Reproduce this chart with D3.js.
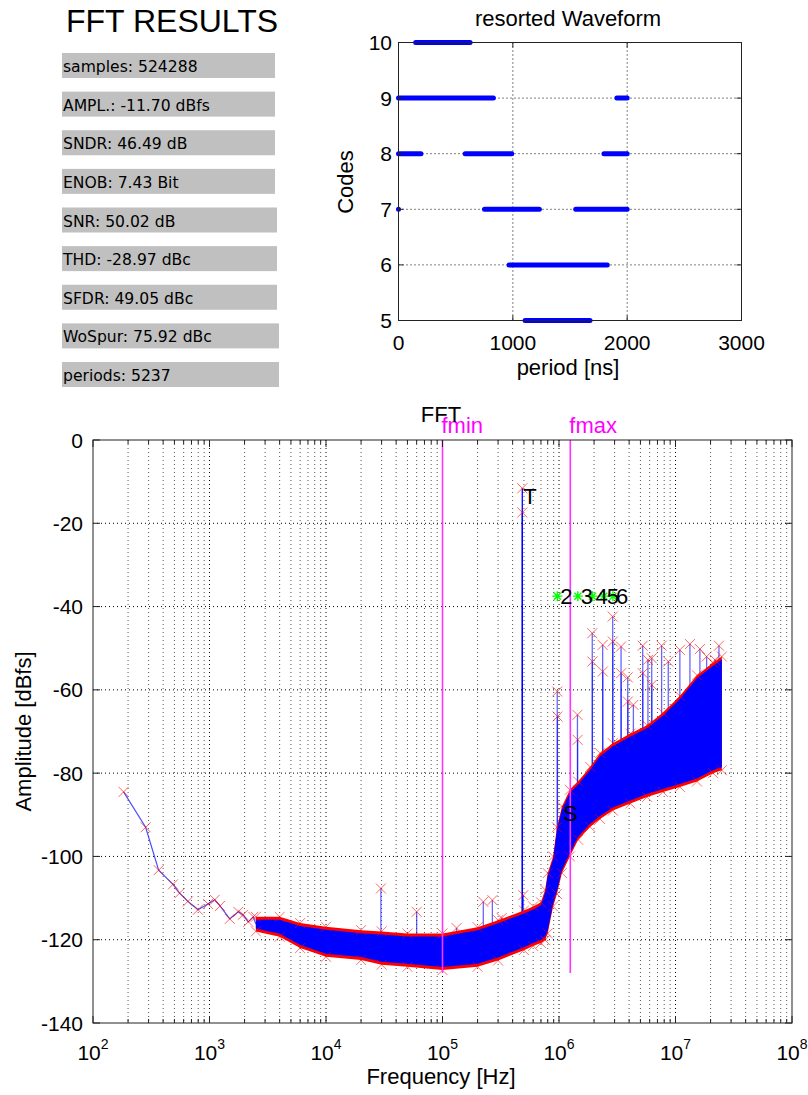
<!DOCTYPE html>
<html>
<head>
<meta charset="utf-8">
<script src="https://cdn.jsdelivr.net/npm/d3@7"></script>
<style>
  body { margin: 0; background: #fff; }
  svg { display: block; }
  text { font-family: "Liberation Sans", Arial, sans-serif; fill: #000; }
</style>
</head>
<body>
<svg id="chart"></svg>
<script>
// ---------- data ----------
const statLabels = [
  "samples: 524288", "AMPL.: -11.70 dBfs", "SNDR: 46.49 dB", "ENOB: 7.43 Bit",
  "SNR: 50.02 dB", "THD: -28.97 dBc", "SFDR: 49.05 dBc", "WoSpur: 75.92 dBc", "periods: 5237"
];

// resorted waveform: runs of samples per code (period in ns)
const waveCodes = [10, 9, 9, 8, 8, 8, 7, 7, 7, 6, 5];
const waveStart = [150, 0, 1910, 0, 583, 1797, 0, 752, 1550, 967, 1107];
const waveEnd   = [626, 830, 2000, 196, 990, 2000, 0, 1232, 2000, 1826, 1675];
const waveXTicks = [0, 1000, 2000, 3000];
const waveYTicks = [5, 6, 7, 8, 9, 10];

// FFT: sparse low-frequency bins
const lowHz = [183, 283, 366, 486, 554, 653, 796, 970, 1110, 1230, 1493, 1766, 1941, 2153, 2376];
const lowDb = [-84.5, -93.0, -103.3, -106.7, -108.8, -110.8, -112.8, -111.4, -110.4, -111.9, -115.0, -113.3, -114.0, -115.7, -114.5];

// FFT: dense noise band envelope (top / bottom of the marker cloud)
const bandHz = [2.5e3, 4e3, 6e3, 1e4, 2e4, 3e4, 5e4, 1e5, 2e5, 3e5, 5e5, 6e5, 7e5, 7.6e5, 8e5, 8.9e5,
  9.6e5, 1.06e6, 1.24e6, 1.46e6, 1.85e6, 2.25e6, 2.9e6, 4.1e6, 5.7e6, 7.8e6, 1.09e7, 1.53e7, 2.1e7, 2.5e7];
const bandTopDb = [-114.5, -114.5, -116, -116.9, -117.7, -118, -118.5, -118.5, -117, -115.3, -113, -112, -111, -108,
  -104, -100, -93, -88, -84, -82, -78.5, -75.2, -72.8, -70.5, -68.5, -65.5, -61.5, -56.5, -53.5, -52];
const bandBotDb = [-118, -119.3, -122, -124.1, -124.9, -126, -126.5, -127.3, -126.5, -125, -122.5, -121.5, -120.8, -120.1,
  -118.5, -112, -109, -104, -100, -96, -92.9, -91, -89, -87.3, -85.7, -84.5, -83.3, -82, -80, -79.3];

// FFT: spurs standing out of the noise
const spurHz = [29.6e3, 60e3, 132e3, 224e3, 268e3, 322e3, 494e3, 484e3, 484.5e3,
  966e3, 970e3, 1.44e6, 1.445e6, 1.93e6, 1.935e6, 2.37e6, 2.375e6, 2.89e6, 2.895e6, 3.41e6, 3.415e6,
  3.89e6, 3.9e6, 4.35e6, 5.23e6, 5.24e6, 5.8e6, 6.25e6, 6.26e6, 7.6e6, 8.67e6, 10.9e6, 13.3e6, 16.2e6,
  18.5e6, 21.8e6, 23.6e6];
const spurDb = [-107.7, -113.3, -117.2, -110.9, -110.5, -114.8, -109.3, -11.6, -17.4,
  -60.4, -66.4, -66, -72, -46.4, -53.2, -49.2, -55.6, -42.4, -48.4, -49.6, -56,
  -57, -62.8, -63.6, -49.4, -56, -52.8, -52.4, -58.8, -49.4, -53.2, -50.4, -49, -50.2,
  -52, -52.8, -49.4];

// harmonics 2..6 (markers drawn at a fixed level)
const harmHz = [968e3, 1.452e6, 1.936e6, 2.42e6, 2.904e6];
const harmDb = [-37.5, -37.5, -37.5, -37.5, -37.5];
const harmLabels = ["2", "3", "4", "5", "6"];

const peakLabels = ["T", "S"];
const peakHz = [484e3, 1.06e6];
const peakDb = [-13.5, -89.6];

const fLimitNames = ["fmin", "fmax"];
const fLimitHz = [1e5, 1.25e6];
const fLimitBottomDb = -128;

const fftYTicks = [0, -20, -40, -60, -80, -100, -120, -140];
const fftXDecades = [2, 3, 4, 5, 6, 7, 8];

// ---------- drawing ----------
const W = 808, H = 1095;
const svg = d3.select("#chart").attr("width", W).attr("height", H);
svg.append("rect").attr("width", W).attr("height", H).attr("fill", "#fff");

const xMark = "M-5,-5L5,5M-5,5L5,-5";
const starMark = "M-5,0L5,0M0,-5L0,5M-3.5,-3.5L3.5,3.5M-3.5,3.5L3.5,-3.5";

// ---- stats panel ----
svg.append("text").attr("x", 66).attr("y", 32).attr("font-size", 32).text("FFT RESULTS");
const boxY = d3.scaleLinear().domain([0, statLabels.length - 1]).range([53, 362]);
const stat = svg.append("g").selectAll("g").data(statLabels).join("g")
  .attr("transform", (d, i) => `translate(62,${boxY(i)})`);
stat.append("rect")
  .attr("width", (d, i) => (i < 4 ? 213 : i < 7 ? 215 : 217))
  .attr("height", 25)
  .attr("fill", "#c0c0c0");
stat.append("text")
  .attr("x", 1).attr("y", 19)
  .style("font-family", "'DejaVu Sans', sans-serif")
  .attr("font-size", 15.6)
  .attr("fill", "#111")
  .text(d => d);

// ---- resorted waveform ----
const wx = d3.scaleLinear().domain([0, 3000]).range([398.5, 741.5]);
const wy = d3.scaleLinear().domain([5, 10]).range([320.5, 42.5]);
const wg = svg.append("g");

wg.append("g").selectAll("line").data(waveXTicks.slice(1, -1)).join("line")
  .attr("x1", d => wx(d)).attr("x2", d => wx(d))
  .attr("y1", wy(10)).attr("y2", wy(5))
  .attr("stroke", "#000").attr("stroke-dasharray", "1,3");
wg.append("g").selectAll("line").data(waveYTicks.slice(1, -1)).join("line")
  .attr("x1", wx(0)).attr("x2", wx(3000))
  .attr("y1", d => wy(d)).attr("y2", d => wy(d))
  .attr("stroke", "#000").attr("stroke-dasharray", "1,3");

wg.append("g").selectAll("line").data(waveCodes).join("line")
  .attr("x1", (d, i) => wx(waveStart[i])).attr("x2", (d, i) => wx(waveEnd[i]))
  .attr("y1", d => wy(d)).attr("y2", d => wy(d))
  .attr("stroke", "#0000ff").attr("stroke-width", 5).attr("stroke-linecap", "round");

wg.append("rect")
  .attr("x", wx(0)).attr("y", wy(10))
  .attr("width", wx(3000) - wx(0)).attr("height", wy(5) - wy(10))
  .attr("fill", "none").attr("stroke", "#222");

const wTick = 5;
waveXTicks.forEach(t => {
  wg.append("line").attr("x1", wx(t)).attr("x2", wx(t)).attr("y1", wy(5)).attr("y2", wy(5) - wTick).attr("stroke", "#222");
  wg.append("line").attr("x1", wx(t)).attr("x2", wx(t)).attr("y1", wy(10)).attr("y2", wy(10) + wTick).attr("stroke", "#222");
});
waveYTicks.forEach(t => {
  wg.append("line").attr("x1", wx(0)).attr("x2", wx(0) + wTick).attr("y1", wy(t)).attr("y2", wy(t)).attr("stroke", "#222");
  wg.append("line").attr("x1", wx(3000)).attr("x2", wx(3000) - wTick).attr("y1", wy(t)).attr("y2", wy(t)).attr("stroke", "#222");
});

wg.append("g").selectAll("text").data(waveXTicks).join("text")
  .attr("x", d => wx(d)).attr("y", 350)
  .attr("text-anchor", "middle").attr("font-size", 21)
  .text(d => d);
wg.append("g").selectAll("text").data(waveYTicks).join("text")
  .attr("x", 392).attr("y", d => wy(d)).attr("dy", "0.36em")
  .attr("text-anchor", "end").attr("font-size", 21)
  .text(d => d);
wg.append("text").attr("x", 568).attr("y", 26).attr("text-anchor", "middle").attr("font-size", 22).text("resorted Waveform");
wg.append("text").attr("x", 568).attr("y", 375).attr("text-anchor", "middle").attr("font-size", 22).text("period [ns]");
wg.append("text").attr("transform", "translate(353,182) rotate(-90)")
  .attr("text-anchor", "middle").attr("font-size", 22).text("Codes");

// ---- FFT ----
const fx = d3.scaleLog().domain([1e2, 1e8]).range([93, 792]);
const fy = d3.scaleLinear().domain([-140, 0]).range([1023, 440]);
const fg = svg.append("g");

const allTicks = fx.ticks();
const majorHz = fftXDecades.map(e => Math.pow(10, e));
const minorHz = allTicks.filter(t => !majorHz.some(m => Math.abs(m - t) / m < 1e-9));

// grid
fg.append("g").selectAll("line").data(minorHz).join("line")
  .attr("x1", d => fx(d)).attr("x2", d => fx(d)).attr("y1", fy(0)).attr("y2", fy(-140))
  .attr("stroke", "#555").attr("stroke-dasharray", "1,3");
fg.append("g").selectAll("line").data(majorHz.slice(1, -1)).join("line")
  .attr("x1", d => fx(d)).attr("x2", d => fx(d)).attr("y1", fy(0)).attr("y2", fy(-140))
  .attr("stroke", "#000").attr("stroke-dasharray", "1,3");
fg.append("g").selectAll("line").data(fftYTicks.slice(1, -1)).join("line")
  .attr("x1", fx(1e2)).attr("x2", fx(1e8)).attr("y1", d => fy(d)).attr("y2", d => fy(d))
  .attr("stroke", "#000").attr("stroke-dasharray", "1,3");

// clip for data
svg.append("defs").append("clipPath").attr("id", "fftClip").append("rect")
  .attr("x", fx(1e2)).attr("y", fy(0)).attr("width", fx(1e8) - fx(1e2)).attr("height", fy(-140) - fy(0));
const dg = fg.append("g").attr("clip-path", "url(#fftClip)");

// band top as a function of frequency (for spur stems)
const topAt = d3.scaleLog().domain(bandHz).range(bandTopDb);

// spur stems
dg.append("g").selectAll("line").data(spurHz).join("line")
  .attr("x1", d => fx(d)).attr("x2", d => fx(d))
  .attr("y1", (d, i) => fy(spurDb[i]))
  .attr("y2", d => fy(d < bandHz[0] ? -125 : topAt(d)) + 6)
  .attr("stroke", "#0000ff")
  .attr("stroke-opacity", (d, i) => (spurDb[i] > -20 ? 1 : 0.6))
  .attr("stroke-width", 1.3);

// low-frequency line
const lowLine = d3.line().x(d => fx(d[0])).y(d => fy(d[1]));
const lowPts = lowHz.map((h, i) => [h, lowDb[i]]);
lowPts.push([bandHz[0], (bandTopDb[0] + bandBotDb[0]) / 2]);
dg.append("path").attr("d", lowLine(lowPts))
  .attr("fill", "none").attr("stroke", "#2020ff").attr("stroke-opacity", 0.8).attr("stroke-width", 1.2);

// noise band (red marker cloud + blue trace inside)
const bandData = bandHz.map((h, i) => ({ h, top: bandTopDb[i], bot: bandBotDb[i] }));
dg.append("path").datum(bandData)
  .attr("d", d3.area().x(d => fx(d.h)).y0(d => fy(d.bot)).y1(d => fy(d.top)))
  .attr("fill", "#ff0000");
dg.append("path").datum(bandData)
  .attr("d", d3.area().x(d => fx(d.h)).y0(d => fy(d.bot) - 3).y1(d => fy(d.top) + 3))
  .attr("fill", "#0000ff");

// edge markers of the band
const edgeMarks = dg.append("g").attr("stroke", "#ff0000").attr("stroke-opacity", 0.55).attr("fill", "none");
bandData.forEach(d => {
  edgeMarks.append("path").attr("d", xMark).attr("transform", `translate(${fx(d.h)},${fy(d.top)})`);
  edgeMarks.append("path").attr("d", xMark).attr("transform", `translate(${fx(d.h)},${fy(d.bot)})`);
});

// markers on low bins and spurs
dg.append("g").selectAll("path").data(lowHz).join("path")
  .attr("d", xMark).attr("transform", (d, i) => `translate(${fx(d)},${fy(lowDb[i])})`)
  .attr("stroke", "#ff0000").attr("stroke-opacity", 0.6).attr("fill", "none");
dg.append("g").selectAll("path").data(spurHz).join("path")
  .attr("d", xMark).attr("transform", (d, i) => `translate(${fx(d)},${fy(spurDb[i])})`)
  .attr("stroke", "#ff0000").attr("stroke-opacity", 0.6).attr("fill", "none");

// fmin / fmax
fg.append("g").selectAll("line").data(fLimitHz).join("line")
  .attr("x1", d => fx(d)).attr("x2", d => fx(d))
  .attr("y1", fy(0)).attr("y2", fy(fLimitBottomDb))
  .attr("stroke", "#ff33ff").attr("stroke-width", 1.6);
fg.append("g").selectAll("text").data(fLimitNames).join("text")
  .attr("x", (d, i) => fx(fLimitHz[i]) - 1).attr("y", 433)
  .attr("font-size", 22).style("fill", "#ff00ff")
  .text(d => d);

// harmonics
fg.append("g").selectAll("path").data(harmHz).join("path")
  .attr("d", starMark).attr("transform", (d, i) => `translate(${fx(d)},${fy(harmDb[i])})`)
  .attr("stroke", "#00ff00").attr("stroke-width", 1.4).attr("fill", "none");
fg.append("g").selectAll("text").data(harmLabels).join("text")
  .attr("x", (d, i) => fx(harmHz[i]) + 3).attr("y", (d, i) => fy(harmDb[i])).attr("dy", "0.36em")
  .attr("font-size", 22).text(d => d);

// T / S annotations
fg.append("g").selectAll("text").data(peakLabels).join("text")
  .attr("x", (d, i) => fx(peakHz[i]) + 1).attr("y", (d, i) => fy(peakDb[i])).attr("dy", "0.36em")
  .attr("font-size", 22).text(d => d);

// axes box + ticks
fg.append("rect")
  .attr("x", fx(1e2)).attr("y", fy(0))
  .attr("width", fx(1e8) - fx(1e2)).attr("height", fy(-140) - fy(0))
  .attr("fill", "none").attr("stroke", "#222");
const tickG = fg.append("g").attr("stroke", "#222");
majorHz.forEach(t => {
  tickG.append("line").attr("x1", fx(t)).attr("x2", fx(t)).attr("y1", fy(-140)).attr("y2", fy(-140) - 7);
  tickG.append("line").attr("x1", fx(t)).attr("x2", fx(t)).attr("y1", fy(0)).attr("y2", fy(0) + 7);
});
minorHz.forEach(t => {
  tickG.append("line").attr("x1", fx(t)).attr("x2", fx(t)).attr("y1", fy(-140)).attr("y2", fy(-140) - 4);
  tickG.append("line").attr("x1", fx(t)).attr("x2", fx(t)).attr("y1", fy(0)).attr("y2", fy(0) + 4);
});
fftYTicks.forEach(t => {
  tickG.append("line").attr("x1", fx(1e2)).attr("x2", fx(1e2) + 7).attr("y1", fy(t)).attr("y2", fy(t));
  tickG.append("line").attr("x1", fx(1e8)).attr("x2", fx(1e8) - 7).attr("y1", fy(t)).attr("y2", fy(t));
});

// tick labels
fg.append("g").selectAll("text").data(fftYTicks).join("text")
  .attr("x", 83).attr("y", d => fy(d)).attr("dy", "0.36em")
  .attr("text-anchor", "end").attr("font-size", 21)
  .text(d => d);
const xl = fg.append("g").selectAll("text").data(fftXDecades).join("text")
  .attr("x", d => fx(Math.pow(10, d))).attr("y", 1060)
  .attr("text-anchor", "middle").attr("font-size", 21);
xl.append("tspan").text("10");
xl.append("tspan").attr("dy", -11).attr("font-size", 14).text(d => d);

// titles
fg.append("text").attr("x", 441).attr("y", 422).attr("text-anchor", "middle").attr("font-size", 22).text("FFT");
fg.append("text").attr("x", 441).attr("y", 1084).attr("text-anchor", "middle").attr("font-size", 22).text("Frequency [Hz]");
fg.append("text").attr("transform", `translate(31,${(fy(0) + fy(-140)) / 2}) rotate(-90)`)
  .attr("text-anchor", "middle").attr("font-size", 22).text("Amplitude [dBfs]");
</script>
</body>
</html>
